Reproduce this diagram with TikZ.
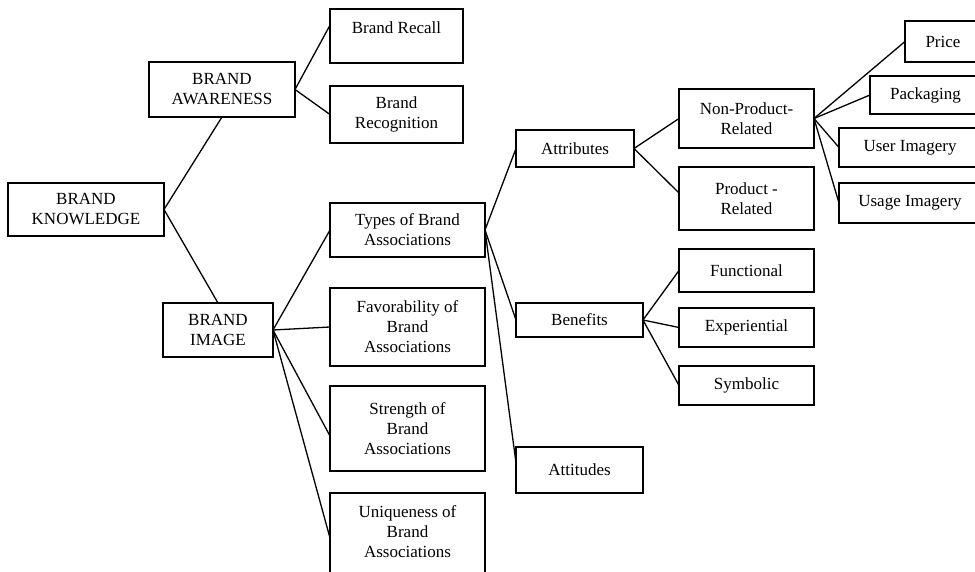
\documentclass[tikz,border=0pt]{standalone}
\usepackage{fontspec}
\setmainfont{Liberation Serif}
\usetikzlibrary{calc}
\begin{document}
\begin{tikzpicture}[x=1pt,y=-1pt,
  box/.style={draw, line width=1.3pt, inner sep=0pt, outer sep=0pt,
    align=center, font=\fontsize{17}{20}\selectfont},
  link/.style={line width=1.3pt}]
\useasboundingbox (0,0) rectangle (975,572);
\clip (0,0) rectangle (975,572);

% level 1
\node[box, minimum width=156pt, minimum height=53pt] (bk) at (86,209.5) {BRAND\\KNOWLEDGE};

% level 2
\node[box, minimum width=146pt, minimum height=55pt] (aware) at (222,89.5) {BRAND\\AWARENESS};
\node[box, minimum width=110pt, minimum height=54pt] (image) at (218,330) {BRAND\\IMAGE};

% level 3
\node[box, minimum width=133pt, minimum height=54pt] (recall) at (396.5,36) {Brand Recall\\[-4pt]\mbox{}};
\node[box, minimum width=133pt, minimum height=57pt] (recog) at (396.5,114.5) {Brand\\Recognition};
\node[box, minimum width=155pt, minimum height=54pt] (types) at (407.5,230) {Types of Brand\\Associations};
\node[box, minimum width=155pt, minimum height=78pt] (fav) at (407.5,327) {Favorability of\\Brand\\Associations};
\node[box, minimum width=155pt, minimum height=85pt] (strength) at (407.5,428.5) {Strength of\\Brand\\Associations};
\node[box, minimum width=155pt, minimum height=89pt] (uniq) at (407.5,537.5) {Uniqueness of\\Brand\\Associations\\[-8pt]\mbox{}};

% level 4
\node[box, minimum width=118pt, minimum height=37pt] (attr) at (575,148.5) {Attributes};
\node[box, minimum width=127pt, minimum height=34pt] (benef) at (579.5,320) {Benefits};
\node[box, minimum width=127pt, minimum height=46pt] (attit) at (579.5,470) {Attitudes};

% level 5
\node[box, minimum width=135pt, minimum height=59pt] (npr) at (746.5,118.5) {Non-Product-\\Related};
\node[box, minimum width=135pt, minimum height=63pt] (pr) at (746.5,198.5) {Product -\\Related};
\node[box, minimum width=135pt, minimum height=43pt] (func) at (746.5,270.5) {Functional};
\node[box, minimum width=135pt, minimum height=39pt] (exper) at (746.5,327.5) {Experiential};
\node[box, minimum width=135pt, minimum height=39pt] (symb) at (746.5,385.5) {Symbolic};

% level 6
\node[box, minimum width=76pt, minimum height=41pt] (price) at (943,41.5) {Price};
\node[box, minimum width=111pt, minimum height=38pt] (pack) at (925.5,95) {Packaging};
\node[box, minimum width=142pt, minimum height=39pt] (user) at (910,147.5) {User Imagery};
\node[box, minimum width=142pt, minimum height=40pt] (usage) at (910,203) {Usage Imagery};

% connectors
\draw[link] (bk.east) -- (aware.south);
\draw[link] (bk.east) -- (image.north);
\draw[link] (aware.east) -- ($(recall.north west)!0.3!(recall.south west)$);
\draw[link] (aware.east) -- (recog.west);
\draw[link] (image.east) -- (types.west);
\draw[link] (image.east) -- (fav.west);
\draw[link] (image.east) -- ($(strength.north west)+(0,50)$);
\draw[link] (image.east) -- ($(uniq.north west)+(0,45)$);
\draw[link] (types.east) -- (attr.west);
\draw[link] (types.east) -- (benef.west);
\draw[link] (types.east) -- ($(attit.north west)+(0,16)$);
\draw[link] (attr.east) -- (npr.west);
\draw[link] (attr.east) -- ($(pr.north west)+(0,26)$);
\draw[link] (npr.east) -- (price.west);
\draw[link] (npr.east) -- (pack.west);
\draw[link] (npr.east) -- (user.west);
\draw[link] (npr.east) -- (usage.west);
\draw[link] (benef.east) -- (func.west);
\draw[link] (benef.east) -- (exper.west);
\draw[link] (benef.east) -- (symb.west);
\end{tikzpicture}
\end{document}
